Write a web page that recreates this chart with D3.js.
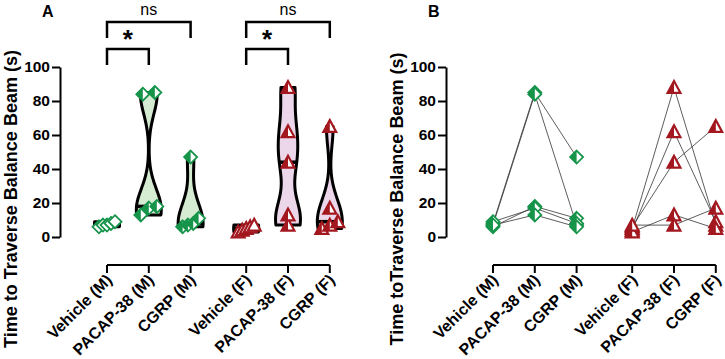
<!DOCTYPE html>
<html lang="en">
<head>
<meta charset="UTF-8">
<title>Time to traverse balance beam</title>
<script src="https://d3js.org/d3.v7.min.js"></script>
<style>
  body { margin: 0; background: #fff; }
  svg { display: block; font-family: "Liberation Sans", Arial, sans-serif; }
</style>
</head>
<body>
<svg width="725" height="359"></svg>
<script>
// groups on the x axis
const categories = ["Vehicle (M)", "PACAP-38 (M)", "CGRP (M)", "Vehicle (F)", "PACAP-38 (F)", "CGRP (F)"];
const yTicks = [0, 20, 40, 60, 80, 100];

// one entry per animal, same order in each array
const maleVehicle   = [8, 7, 6, 9, 7];
const malePacap     = [85, 84, 18, 17, 13];
const maleCgrp      = [47, 7, 11, 8, 6];
const femaleVehicle = [5, 4, 6, 3, 7];
const femalePacap   = [88, 62, 44, 13, 7];
const femaleCgrp    = [7, 9, 65, 5, 17];

// significance brackets (category indices)
const comparisons = [
  { a: 0, b: 1, label: "*", level: 0 },
  { a: 0, b: 2, label: "ns", level: 1 },
  { a: 3, b: 4, label: "*", level: 0 },
  { a: 3, b: 5, label: "ns", level: 1 }
];

const green = "#15944a", red = "#a3171f";
const groups = [
  { values: maleVehicle,   sex: "M" },
  { values: malePacap,     sex: "M" },
  { values: maleCgrp,      sex: "M" },
  { values: femaleVehicle, sex: "F" },
  { values: femalePacap,   sex: "F" },
  { values: femaleCgrp,    sex: "F" }
];

const svg = d3.select("svg");
const font = "Liberation Sans, Arial, sans-serif";

const y = d3.scaleLinear().domain([0, 100]).range([237, 67]);
// index scale with a small gap between the sexes
const xi = d3.scaleLinear().domain([0, 1]).range([107, 148.8]);
const slot = i => i + (i >= 3 ? 0.33 : 0);

function diamond(r) { return `M0,${-r}L${r},0L0,${r}L${-r},0Z`; }
function diamondHalf(r) { return `M0,${-r}L${-r},0L0,${r}Z`; }
function tri(s) { return `M0,${-s}L${s},${s * 0.85}L${-s},${s * 0.85}Z`; }
function triHalf(s) { return `M0,${-s}L${-s},${s * 0.85}L0,${s * 0.85}Z`; }

function marker(g, sex, half) {
  const col = sex === "M" ? green : red;
  if (sex === "M") {
    g.append("path").attr("d", diamond(6.5)).attr("fill", "#fff")
      .attr("stroke", col).attr("stroke-width", 1.8);
    if (half) g.append("path").attr("d", diamondHalf(6.5)).attr("fill", col);
  } else {
    g.append("path").attr("d", tri(6.4)).attr("fill", "#fff")
      .attr("stroke", col).attr("stroke-width", 2.2).attr("stroke-linejoin", "miter");
    if (half) g.append("path").attr("d", triHalf(6.4)).attr("fill", col);
  }
}

function panel(dx, title, label) {
  const p = svg.append("g").attr("transform", `translate(${dx},0)`);
  const x = i => xi(slot(i));

  // y axis
  const ya = p.append("g").attr("transform", "translate(60,0)")
    .call(d3.axisLeft(y).tickValues(yTicks).tickSize(8).tickPadding(2).tickSizeOuter(0));
  ya.select(".domain").attr("stroke", "#000").attr("stroke-width", 2);
  ya.selectAll(".tick line").attr("stroke", "#000").attr("stroke-width", 2);
  ya.selectAll(".tick text").attr("font-size", 15.5).attr("font-weight", "bold")
    .attr("fill", "#000").attr("font-family", font);

  // x axis (detached)
  const xa = p.append("g").attr("transform", "translate(0,265)");
  xa.append("line").attr("x1", x(0)).attr("x2", x(5)).attr("stroke", "#000").attr("stroke-width", 2);
  categories.forEach((c, i) => {
    xa.append("line").attr("x1", x(i)).attr("x2", x(i)).attr("y1", 0).attr("y2", 8)
      .attr("stroke", "#000").attr("stroke-width", 2);
    xa.append("text").text(c)
      .attr("transform", `translate(${x(i) + 6},${16}) rotate(-45)`)
      .attr("text-anchor", "end").attr("font-size", 16).attr("font-weight", "bold");
  });

  // y title
  p.append("text").text(title)
    .attr("transform", `translate(17,199) rotate(-90)`)
    .attr("text-anchor", "middle").attr("font-size", 18).attr("font-weight", "bold");

  // panel letter
  p.append("text").text(label).attr("x", 42).attr("y", 17)
    .attr("font-size", 16).attr("font-weight", "bold");
  return { p, x };
}

// ---------- panel A: violins ----------
const A = panel(0, "Time to Traverse Balance Beam (s)", "A");
const bw = 12;

function density(values, v) {
  return d3.mean(values, s => Math.exp(-0.5 * ((v - s) / bw) ** 2));
}

groups.forEach((g, i) => {
  const cx = A.x(i);
  const lo = d3.min(g.values), hi = d3.max(g.values);
  const dens = d3.range(0, 41).map(k => {
    const v = lo + (hi - lo) * k / 40;
    return { v, d: density(g.values, v) };
  });
  const maxD = d3.max(dens, d => d.d);
  const hw = d => 12.5 * d.d / maxD;
  const fill = g.sex === "M" ? "#d6ecd2" : "#ecd6e9";
  const area = d3.area()
    .y(d => y(d.v))
    .x0(d => cx - hw(d))
    .x1(d => cx + hw(d))
    .curve(d3.curveBasis);
  A.p.append("path").datum(dens).attr("d", area)
    .attr("fill", fill).attr("stroke", "#000").attr("stroke-width", 3)
    .attr("stroke-linejoin", "round");

  // median
  const med = d3.median(g.values);
  const mw = Math.max(8, 12.5 * density(g.values, med) / maxD + 1);
  A.p.append("line").attr("x1", cx - mw).attr("x2", cx + mw)
    .attr("y1", y(med)).attr("y2", y(med))
    .attr("stroke", "#000").attr("stroke-width", 3.5);

  // points, spread sideways where values are close
  const sorted = g.values.slice().sort((a, b) => a - b);
  const clusters = [];
  sorted.forEach(v => {
    const last = clusters[clusters.length - 1];
    if (last && v - last[last.length - 1] < 6) last.push(v);
    else clusters.push([v]);
  });
  clusters.forEach(cl => {
    const k = cl.length;
    const step = k > 1 ? Math.min(12, 16 / (k - 1)) : 0;
    cl.forEach((v, j) => {
      const off = (j - (k - 1) / 2) * step;
      const m = A.p.append("g").attr("transform", `translate(${cx + off},${y(v)})`);
      marker(m, g.sex, i % 3 !== 0);
    });
  });
});

// brackets
comparisons.forEach(c => {
  const x1 = A.x(c.a), x2 = A.x(c.b);
  const top = c.level === 0 ? 49 : 22;
  A.p.append("path")
    .attr("d", `M${x1},${top + 16}V${top}H${x2}V${top + 16}`)
    .attr("fill", "none").attr("stroke", "#000").attr("stroke-width", 2.5);
  A.p.append("text").text(c.label)
    .attr("x", (x1 + x2) / 2)
    .attr("y", c.label === "*" ? top - 1 : top - 7)
    .attr("text-anchor", "middle")
    .attr("font-size", c.label === "*" ? 26 : 16)
    .attr("font-weight", c.label === "*" ? "bold" : "normal");
});

// ---------- panel B: paired lines ----------
const B = panel(386, "Time toTraverse Balance Beam (s)", "B");

const pairs = [
  { sex: "M", idx: [0, 1, 2], sets: [maleVehicle, malePacap, maleCgrp] },
  { sex: "F", idx: [3, 4, 5], sets: [femaleVehicle, femalePacap, femaleCgrp] }
];
const line = d3.line();
pairs.forEach(pr => {
  pr.sets[0].forEach((_, a) => {
    const pts = pr.idx.map((ci, k) => [B.x(ci), y(pr.sets[k][a])]);
    B.p.append("path").attr("d", line(pts))
      .attr("fill", "none").attr("stroke", "#333").attr("stroke-width", 0.8);
  });
});
pairs.forEach(pr => {
  pr.sets.forEach((vals, k) => {
    vals.forEach(v => {
      const m = B.p.append("g").attr("transform", `translate(${B.x(pr.idx[k])},${y(v)})`);
      marker(m, pr.sex, true);
    });
  });
});
</script>
</body>
</html>
